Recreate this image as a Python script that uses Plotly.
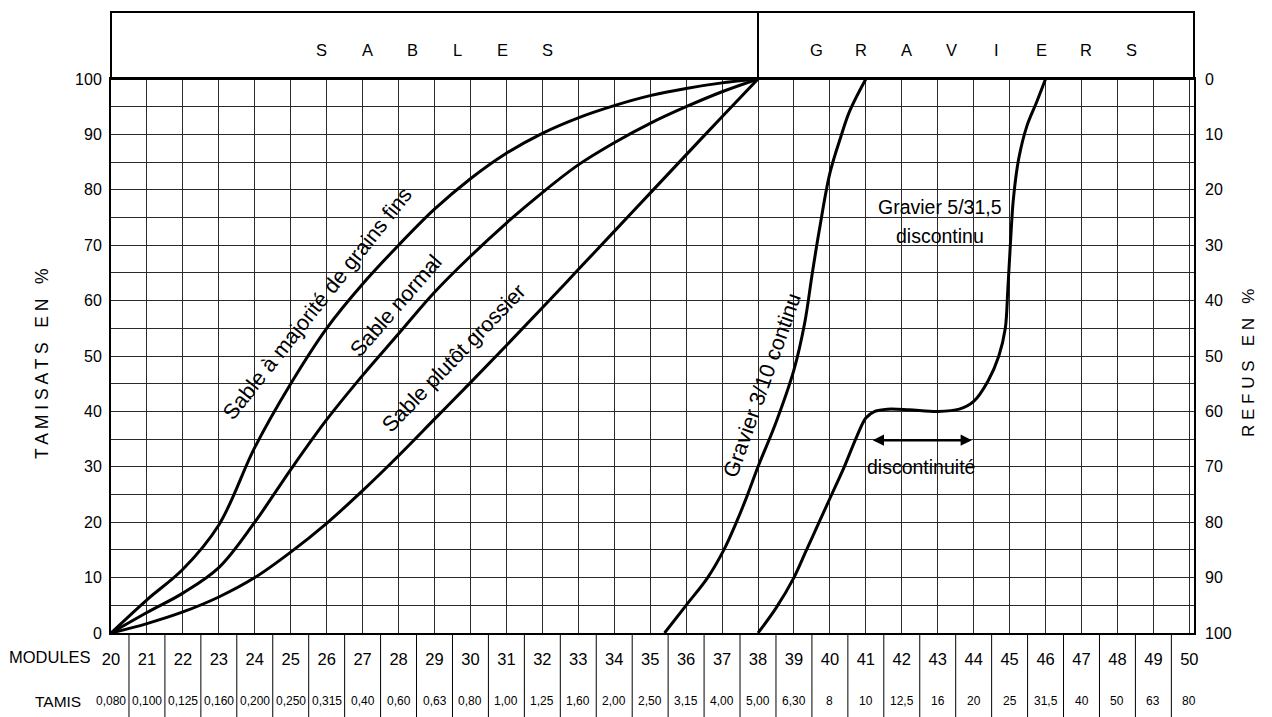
import plotly.graph_objects as go

# ---------------- data ----------------
modules = list(range(20, 51))
tamis = ["0,080", "0,100", "0,125", "0,160", "0,200", "0,250", "0,315", "0,40", "0,60",
         "0,63", "0,80", "1,00", "1,25", "1,60", "2,00", "2,50", "3,15", "4,00", "5,00",
         "6,30", "8", "10", "12,5", "16", "20", "25", "31,5", "40", "50", "63", "80"]
pct_ticks = [0, 10, 20, 30, 40, 50, 60, 70, 80, 90, 100]

sand_modules = [20, 21, 22, 23, 24, 25, 26, 27, 28, 29, 30, 31, 32, 33, 34, 35, 36, 37, 38]
sable_fins = [0, 6, 11.5, 19.5, 33.5, 45, 55, 63, 70, 76.5, 82, 86.6, 90.2, 93, 95.2, 97, 98.3, 99.3, 100]
sable_normal = [0, 3.7, 7.2, 11.8, 20, 29.5, 38.5, 46.5, 54, 61.5, 68, 74, 79.5, 84.5, 88.5, 92, 95, 97.7, 100]
sable_grossier = [0, 1.7, 3.8, 6.5, 10, 14.6, 19.8, 25.7, 32, 38.6, 45.2, 51.9, 58.7, 65.6, 72.5, 79.4, 86.3, 93.2, 100]

g310_modules = [35.4, 36, 36.6, 37.05, 37.4, 37.7, 38, 38.5, 39, 39.3, 39.5, 39.7, 40, 40.3, 40.55, 41]
g310_pct = [0, 5, 10, 15, 20, 24.8, 30, 38, 47.5, 56, 64.5, 72.5, 83, 89.5, 94.2, 100]

g531_modules = [38, 38.5, 39, 39.35, 39.7, 40.05, 40.4, 40.75, 41, 41.25, 41.6, 42.2, 43, 43.6, 44, 44.4,
                44.7, 44.88, 44.95, 45.02, 45.1, 45.25, 45.48, 45.75, 46]
g531_pct = [0, 4.5, 10, 15, 20, 25, 30, 35.5, 38.8, 40, 40.4, 40.3, 40, 40.4, 41.8, 45.5,
            50, 55, 62, 70, 78, 85.5, 91.5, 95.8, 100]

FONT = "Liberation Sans, Arial, sans-serif"

fig = go.Figure()
for xs, ys, sm in [(sand_modules, sable_fins, 1.0), (sand_modules, sable_normal, 1.0),
                   (sand_modules, sable_grossier, 1.0), (g310_modules, g310_pct, 1.0),
                   (g531_modules, g531_pct, 0.9)]:
    fig.add_trace(go.Scatter(x=xs, y=ys, mode="lines",
                             line=dict(color="black", width=3, shape="spline", smoothing=sm),
                             hoverinfo="skip", showlegend=False))
# right axis (refus)
fig.add_trace(go.Scatter(x=[], y=[], yaxis="y2", showlegend=False, hoverinfo="skip"))

# page body has an 8px margin: build the figure 8px smaller and shift margins
OFF = 8
L, R, T, B = 111 - OFF, 78, 79 - OFF, 84
W, H = 1272 - OFF, 717 - OFF
pw, ph = W - L - R, H - T - B
xmax = 20 + pw / ((758 - 111) / 18)

def py(page_y):
    """paper y for a page pixel row"""
    return (633 - page_y) / ph

def px(page_x):
    return (page_x - 111) / pw

grid = "#2a2a2a"
fig.update_layout(
    width=W, height=H, margin=dict(l=L, r=R, t=T, b=B),
    paper_bgcolor="white", plot_bgcolor="white",
    font=dict(family=FONT, color="black", size=15),
    xaxis=dict(range=[20, xmax], tickvals=modules, ticktext=[str(m) for m in modules],
               showgrid=True, gridcolor=grid, gridwidth=1, zeroline=False,
               showline=True, mirror=True, linecolor="black", linewidth=2,
               ticks="", ticklabelstandoff=10, tickfont=dict(size=16.5)),
    yaxis=dict(range=[0, 100], tickvals=pct_ticks, ticktext=[str(v) for v in pct_ticks],
               showgrid=True, gridcolor=grid, gridwidth=1, zeroline=False,
               minor=dict(dtick=5, showgrid=True, gridcolor=grid, gridwidth=1),
               showline=True, mirror=True, linecolor="black", linewidth=2,
               ticks="", ticklabelstandoff=4, tickfont=dict(size=16)),
    yaxis2=dict(range=[100, 0], overlaying="y", side="right", tickvals=pct_ticks,
                ticktext=[str(v) for v in pct_ticks], showgrid=False, zeroline=False,
                showline=False, ticks="", ticklabelstandoff=10, tickfont=dict(size=16)),
)

def note(**kw):
    kw.setdefault("showarrow", False)
    kw.setdefault("xanchor", "center")
    kw.setdefault("yanchor", "middle")
    fig.add_annotation(**kw)

# header box
hdr_top = py(12)
fig.add_shape(type="rect", xref="paper", yref="paper", x0=0, x1=1, y0=1, y1=hdr_top,
              line=dict(color="black", width=2))
fig.add_shape(type="line", xref="x", yref="paper", x0=38, x1=38, y0=1, y1=hdr_top,
              line=dict(color="black", width=2))
for word, centre in [("SABLES", 29.0), ("GRAVIERS", 44.0)]:
    n = len(word)
    for i, ch in enumerate(word):
        note(x=centre + (i - (n - 1) / 2) * 1.252, y=py(50), xref="x", yref="paper",
             text=ch, font=dict(size=16.5))

# bottom table
bot = py(717)
for m in modules:
    fig.add_shape(type="line", xref="x", yref="paper", x0=m + 0.5, x1=m + 0.5, y0=0, y1=bot,
                  line=dict(color="black", width=1))
fig.add_shape(type="line", xref="x", yref="paper", x0=19.5, x1=19.5, y0=py(670), y1=bot,
              line=dict(color="black", width=1))
for m, t in zip(modules, tamis):
    note(x=m, y=py(701), xref="x", yref="paper", text=t,
         font=dict(size=12, family="Liberation Sans Narrow, Liberation Sans, Arial"))
note(x=px(93), y=py(657), xref="paper", yref="paper", text="MODULES", xanchor="right",
     font=dict(size=16.5))
note(x=px(83), y=py(701), xref="paper", yref="paper", text="TAMIS", xanchor="right",
     font=dict(size=15.5))

# axis titles
note(x=px(42), y=py(364), xref="paper", yref="paper",
     text="T A M I S A T S   E N   %", textangle=-90, font=dict(size=17.5))
note(x=px(1248), y=py(363), xref="paper", yref="paper",
     text="R E F U S   E N   %", textangle=-90, font=dict(size=17))

# curve labels
labels = [
    ("Sable à majorité de grains fins", 25.74, 59.4, -51.5),
    ("Sable normal", 27.93, 59.0, -49),
    ("Sable plutôt grossier", 29.55, 49.6, -46),
    ("Gravier 3/10 continu", 38.12, 44.8, -70.5),
]
for txt, x, y, ang in labels:
    note(x=x, y=y, text=txt, textangle=ang, font=dict(size=21.5))
note(x=43.07, y=76.9, text="Gravier 5/31,5", font=dict(size=19.5))
note(x=43.07, y=71.6, text="discontinu", font=dict(size=19.5))
note(x=42.54, y=30.0, text="discontinuité", font=dict(size=19.5))
fig.add_annotation(x=43.95, y=34.8, ax=41.15, ay=34.8, axref="x", ayref="y", text="",
                   showarrow=True, arrowhead=2, arrowside="end+start", arrowwidth=2.5,
                   arrowsize=0.9, arrowcolor="black")

fig.write_html("out.html")
